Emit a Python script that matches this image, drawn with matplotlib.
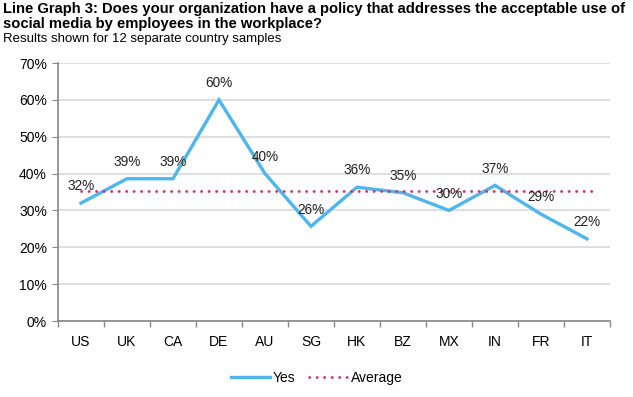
import numpy as np
import matplotlib
matplotlib.use("Agg")
import matplotlib.pyplot as plt
from matplotlib.ticker import FixedLocator, PercentFormatter

plt.rcParams['font.family'] = ['Liberation Sans', 'DejaVu Sans']

countries = ['US', 'UK', 'CA', 'DE', 'AU', 'SG', 'HK', 'BZ', 'MX', 'IN', 'FR', 'IT']
yes = [32, 38.6, 38.6, 60, 40, 25.7, 36.3, 34.8, 30, 36.8, 29, 22.3]
average = 35.3

fig = plt.figure(figsize=(6.33, 3.97), dpi=100, facecolor='white')
ax = fig.add_axes([0.0916, 0.1914, 0.872, 0.6499])

x = np.arange(len(countries))
ax.plot(x, yes, color='#4DB6EE', linewidth=2.4, label='Yes', solid_joinstyle='miter')
ax.plot([x[0], x[-1] + 0.15], [average, average], color='#DD2E60',
        linewidth=2.0, linestyle=(0, (0.1, 2.6)), dash_capstyle='round', label='Average')

for xi, v in zip(x, yes):
    ax.annotate(f"{round(v)}%", (xi, v), xytext=(0, 7), textcoords='offset points',
                ha='center', va='bottom', fontsize=9.8, color='#222222')

ax.set_xlim(-0.5, len(countries) - 0.5)
ax.set_ylim(0, 70)
ax.set_yticks(np.arange(0, 71, 10))
ax.yaxis.set_major_formatter(PercentFormatter(decimals=0))
ax.set_xticks(x)
ax.set_xticklabels(countries)
ax.xaxis.set_minor_locator(FixedLocator(np.arange(-0.5, len(countries), 1)))
ax.tick_params(axis='x', which='major', length=0, pad=10, labelsize=10)
ax.tick_params(axis='x', which='minor', length=4, color='#888888', width=1)
ax.tick_params(axis='y', length=4, color='#888888', labelsize=10, pad=4)

ax.grid(axis='y', color='#D9D9D9', linewidth=1.2)
ax.set_axisbelow(True)
for s in ['top', 'right']:
    ax.spines[s].set_visible(False)
for s in ['left', 'bottom']:
    ax.spines[s].set_color('#888888')
    ax.spines[s].set_linewidth(1.2)

fig.legend(loc='center', bbox_to_anchor=(0.5, 0.048), ncol=2, frameon=False,
           fontsize=10, handlelength=2.8, columnspacing=1.0, handletextpad=0.2)

fig.text(0.004, 0.995, 'Line Graph 3: Does your organization have a policy that addresses the acceptable use of\n'
         'social media by employees in the workplace?', ha='left', va='top',
         fontsize=10.6, fontweight='bold', linespacing=1.1)
fig.text(0.004, 0.918, 'Results shown for 12 separate country samples', ha='left', va='top', fontsize=9.5)

fig.savefig('out.png', dpi=100, facecolor='white')
